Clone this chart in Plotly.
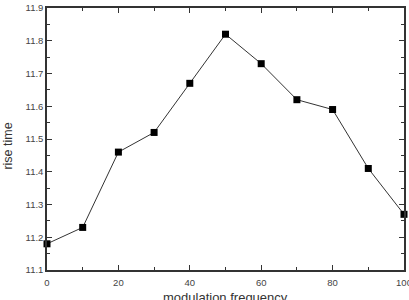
import plotly.graph_objects as go

freq = [0, 10, 20, 30, 40, 50, 60, 70, 80, 90, 100]
rise = [11.18, 11.23, 11.46, 11.52, 11.67, 11.82, 11.73, 11.62, 11.59, 11.41, 11.27]
xticks = [0, 20, 40, 60, 80, 100]
yticks = [11.1, 11.2, 11.3, 11.4, 11.5, 11.6, 11.7, 11.8, 11.9]
x_title = "modulation frequency"
y_title = "rise time"

fig = go.Figure(go.Scatter(
    x=freq, y=rise, mode="lines+markers",
    line=dict(color="#333333", width=1),
    marker=dict(symbol="square", size=7, color="black"),
    cliponaxis=False,
))

axis_common = dict(
    showline=True, linecolor="#333333", linewidth=1.5, mirror="ticks",
    ticks="inside", ticklen=5, tickwidth=1, tickcolor="#333333",
    showgrid=False, zeroline=False, automargin=False,
    ticklabeloverflow="allow",
    tickfont=dict(family="Liberation Sans, Arial", size=9.5, color="#444444"),
)

fig.update_xaxes(range=[0, 100], tickvals=xticks, ticktext=[str(v) for v in xticks],
                 minor=dict(dtick=10, ticks="inside", ticklen=3, tickcolor="#333333"),
                 ticklabelstandoff=3, **axis_common)
fig.update_yaxes(range=[11.1, 11.9], tickvals=yticks, ticktext=[f"{v:.1f}" for v in yticks],
                 minor=dict(dtick=0.05, tick0=11.1, ticks="inside", ticklen=3, tickcolor="#333333"),
                 **axis_common)

title_font = dict(family="Liberation Sans, Arial", size=13, color="#333333")
fig.add_annotation(text=x_title, xref="paper", yref="paper", x=0.5, y=0,
                   xanchor="center", yanchor="top", yshift=-18, showarrow=False,
                   font=title_font)
fig.add_annotation(text=y_title, xref="paper", yref="paper", x=0, y=0.471,
                   xanchor="center", yanchor="middle", xshift=-39, textangle=-90,
                   showarrow=False, font=dict(family="Liberation Sans, Arial", size=12.5, color="#333333"))

fig.update_layout(
    width=409, height=300,
    margin=dict(l=47, r=5, t=8, b=30),
    plot_bgcolor="white", paper_bgcolor="white",
    showlegend=False,
)

fig.write_html("out.html")
